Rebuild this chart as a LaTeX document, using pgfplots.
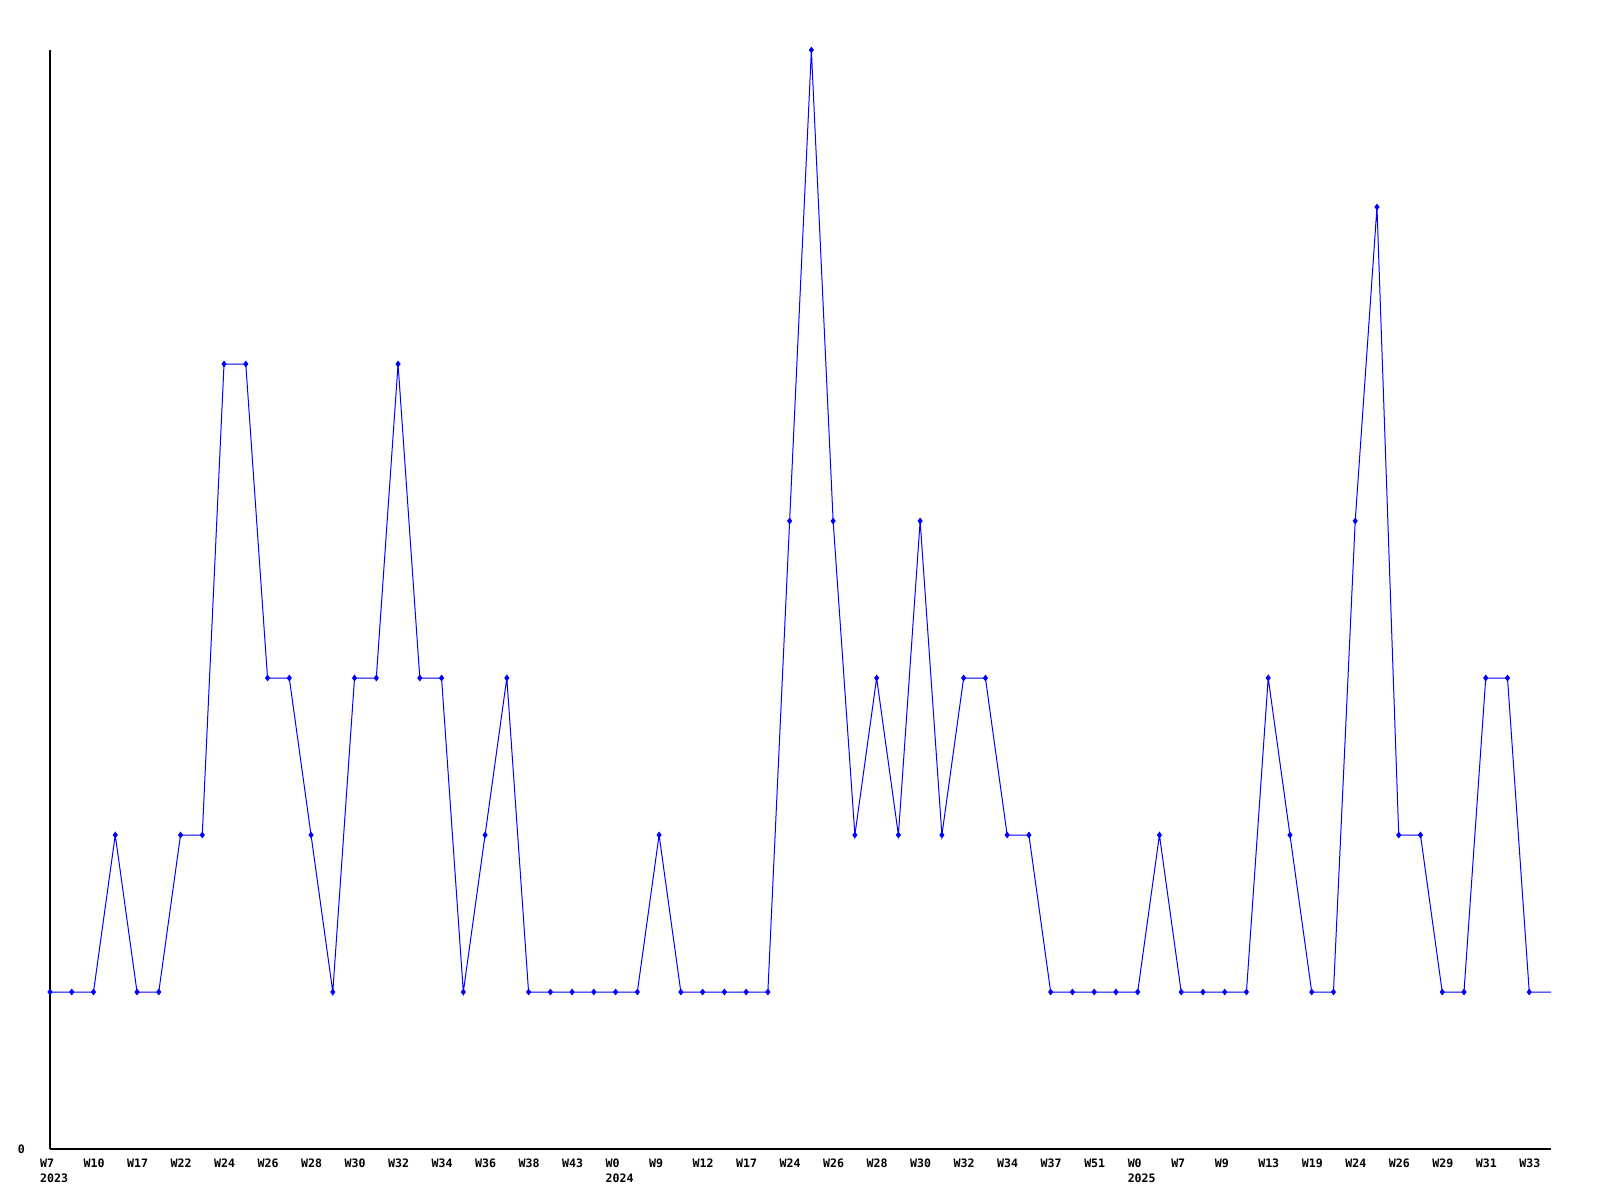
\documentclass[border=0pt]{standalone}
\usepackage{pgfplots}
\pgfplotsset{compat=1.18}
\usepackage{fontspec}
\setmainfont{DejaVu Sans Mono}
\begin{document}
\begin{tikzpicture}
\useasboundingbox (-25pt,-25.5pt) rectangle (775pt,574.5pt);
\begin{axis}[
  at={(0,0)}, anchor=south west,
  scale only axis=true,
  width=750.5pt, height=549.5pt,
  xmin=0, xmax=69, ymin=0, ymax=7,
  axis x line*=bottom, axis y line*=left,
  axis line style={black, line width=0.6pt, -},
  major tick length=0pt,
  xtick={0,2,...,68},
  xticklabels={{W7\\2023},W10,W17,W22,W24,W26,W28,W30,W32,W34,W36,W38,W43,{W0\\2024},W9,W12,W17,W24,W26,W28,W30,W32,W34,W37,W51,{W0\\2025},W7,W9,W13,W19,W24,W26,W29,W31,W33},
  xticklabel style={font=\fontsize{5.8}{7.5}\selectfont\bfseries, anchor=north west, align=left, xshift=-8.5pt, yshift=-1.5pt},
  ytick={0}, yticklabels={0},
  yticklabel style={font=\fontsize{5.8}{7.5}\selectfont\bfseries, anchor=east, xshift=-9pt},
  clip=false,
]
\addplot[blue, line width=0.5pt, mark=diamond*, mark size=1.3pt, mark indices={1,...,69}] coordinates {
(0,1)(1,1)(2,1)(3,2)(4,1)(5,1)(6,2)(7,2)(8,5)(9,5)
(10,3)(11,3)(12,2)(13,1)(14,3)(15,3)(16,5)(17,3)(18,3)(19,1)
(20,2)(21,3)(22,1)(23,1)(24,1)(25,1)(26,1)(27,1)(28,2)(29,1)
(30,1)(31,1)(32,1)(33,1)(34,4)(35,7)(36,4)(37,2)(38,3)(39,2)
(40,4)(41,2)(42,3)(43,3)(44,2)(45,2)(46,1)(47,1)(48,1)(49,1)
(50,1)(51,2)(52,1)(53,1)(54,1)(55,1)(56,3)(57,2)(58,1)(59,1)
(60,4)(61,6)(62,2)(63,2)(64,1)(65,1)(66,3)(67,3)(68,1)(69,1)
};
\end{axis}
\end{tikzpicture}
\end{document}
